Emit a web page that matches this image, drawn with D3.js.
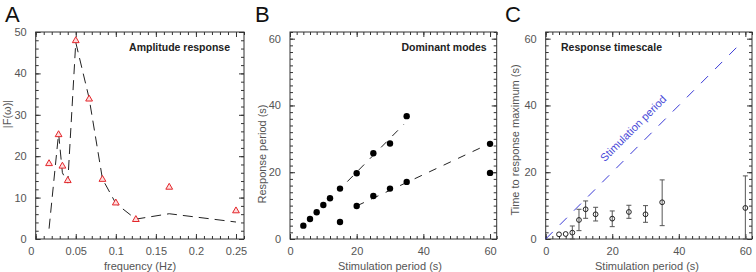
<!DOCTYPE html>
<html>
<head>
<script src="https://d3js.org/d3.v7.min.js"></script>
<style>
  body { margin: 0; background: #fff; }
  svg { font-family: "Liberation Sans", Arial, sans-serif; }
  .tick text { fill: #555; font-size: 11px; }
  .domain, .tick line { stroke: #333; }
</style>
</head>
<body>
<div id="chart"></div>
<script>
// panel A - amplitude response
var freq = [1/60, 1/35, 1/30, 1/25, 1/20, 1/15, 1/12, 1/10, 1/8, 1/6, 1/4];
var ampMeasured = [18.2, 25.2, 17.6, 14.1, 47.9, 33.8, 14.4, 8.7, 4.7, 12.5, 6.8];
var ampModel = [2.5, 25.5, 16, 13.5, 47.5, 34, 14.5, 8.6, 4.8, 6.1, 4.1];
var freqTicks = [0, 0.05, 0.1, 0.15, 0.2, 0.25];
var ampTicks = [0, 10, 20, 30, 40, 50];

// panel B - dominant modes
var stimB = [4, 6, 8, 10, 12, 15, 15, 20, 20, 25, 25, 30, 30, 35, 35, 60, 60];
var respB = [4, 6, 8, 10.2, 12.2, 15.1, 5.1, 19.7, 9.9, 25.7, 12.9, 28.6, 15.1, 36.8, 17.1, 28.5, 19.8];
var fitB1 = [[17.2, 17.2], [34.2, 34.4]];
var fitB2 = [[20, 9.9], [58, 27.7]];

// panel C - response timescale
var stimC = [4, 6, 8, 10, 12, 15, 20, 25, 30, 35, 60];
var tmaxC = [1.4, 1.5, 1.9, 5.7, 8.9, 7.4, 6.1, 8.1, 7.4, 11, 9.3];
var errLo = [1.4, 1.5, 0, 2.5, 6.2, 5.4, 3.7, 6.2, 5, 4, 0];
var errHi = [1.4, 1.5, 3.9, 8.9, 11.4, 9.5, 8.4, 10.1, 10, 17.7, 18.9];
var diagC = [[0, 0], [59, 59]];
var periodTicks = [0, 20, 40, 60];

var svg = d3.select("#chart").append("svg")
  .attr("width", 756).attr("height", 272);

// box with inward major + minor ticks on all four sides, labels only bottom/left
function frame(x, y, xt, yt, xMinor, yMinor, xfmt) {
  var g = svg.append("g");
  var y0 = y.range()[0], y1 = y.range()[1];
  var x0 = x.range()[0], x1 = x.range()[1];
  [[d3.axisBottom, y0, true], [d3.axisTop, y1, false]].forEach(function(a) {
    g.append("g").attr("transform", "translate(0," + a[1] + ")")
      .call(a[0](x).tickValues(xMinor).tickSize(-3).tickSizeOuter(0).tickFormat(""))
      .select(".domain").remove();
    g.append("g").attr("class", a[2] ? "xlab" : null)
      .attr("transform", "translate(0," + a[1] + ")")
      .call(a[0](x).tickValues(xt).tickSize(-5).tickSizeOuter(0).tickPadding(8)
        .tickFormat(a[2] ? xfmt : ""))
      .select(".domain").remove();
  });
  [[d3.axisLeft, x0, true], [d3.axisRight, x1, false]].forEach(function(a) {
    g.append("g").attr("transform", "translate(" + a[1] + ",0)")
      .call(a[0](y).tickValues(yMinor).tickSize(-3).tickSizeOuter(0).tickFormat(""))
      .select(".domain").remove();
    g.append("g").attr("transform", "translate(" + a[1] + ",0)")
      .call(a[0](y).tickValues(yt).tickSize(-5).tickSizeOuter(0).tickPadding(9)
        .tickFormat(a[2] ? d3.format("d") : ""))
      .select(".domain").remove();
  });
  g.append("rect").attr("x", x0).attr("y", y1)
    .attr("width", x1 - x0).attr("height", y0 - y1)
    .attr("fill", "none").attr("stroke", "#333");
  return g;
}

function text(x, y, s, opts) {
  opts = opts || {};
  var t = svg.append("text").attr("x", x).attr("y", y).text(s)
    .attr("font-size", opts.size || 11)
    .attr("fill", opts.fill || "#555")
    .attr("text-anchor", opts.anchor || "middle");
  if (opts.bold) t.attr("font-weight", "bold");
  if (opts.rotate) t.attr("transform", "rotate(" + opts.rotate + "," + x + "," + y + ")");
  return t;
}

// ---------- A ----------
var xA = d3.scaleLinear().domain([0, 0.26]).range([35.7, 244]);
var yA = d3.scaleLinear().domain([0, 50]).range([239, 32]);
var fmtA = function(d) { return d === 0 ? "0" : String(+d.toFixed(2)); };
var gA = frame(xA, yA, freqTicks, ampTicks, d3.range(0, 0.2601, 0.01), d3.range(0, 50.1, 2), fmtA);
// the "0" on the frequency axis sits a little to the left
gA.select(".xlab").selectAll(".tick text").filter(function(d) { return d === 0; })
  .attr("dx", -5);

var lineA = d3.line().x(function(d, i) { return xA(freq[i]); }).y(function(d) { return yA(d); });
svg.append("path").datum(ampModel).attr("d", lineA)
  .attr("fill", "none").attr("stroke", "#222").attr("stroke-width", 1)
  .attr("stroke-dasharray", "10,6");
var tri = d3.symbol().type(d3.symbolTriangle).size(20);
svg.append("g").selectAll("path").data(ampMeasured).enter().append("path")
  .attr("d", tri)
  .attr("transform", function(d, i) { return "translate(" + xA(freq[i]) + "," + yA(d) + ")"; })
  .attr("fill", "#fdd").attr("stroke", "#e3262b").attr("stroke-width", 1);

text(230, 51, "Amplitude response", {anchor: "end", bold: true, fill: "#222", size: 10.5});
text(5, 22, "A", {anchor: "start", size: 22, fill: "#111"});
text(140, 270, "frequency (Hz)");
text(11, 114, "|F(\u03c9)|", {rotate: -90});

// ---------- B ----------
var xB = d3.scaleLinear().domain([0, 62]).range([290, 496.7]);
var yB = d3.scaleLinear().domain([0, 62]).range([239, 32]);
frame(xB, yB, periodTicks, periodTicks, d3.range(0, 62.1, 2), d3.range(0, 62.1, 2), d3.format("d"));
var lineXY = function(x, y) {
  return d3.line().x(function(d) { return x(d[0]); }).y(function(d) { return y(d[1]); });
};
[fitB1, fitB2].forEach(function(f) {
  svg.append("path").datum(f).attr("d", lineXY(xB, yB))
    .attr("fill", "none").attr("stroke", "#222").attr("stroke-width", 1)
    .attr("stroke-dasharray", "8,8");
});
svg.append("g").selectAll("circle").data(respB).enter().append("circle")
  .attr("cx", function(d, i) { return xB(stimB[i]); })
  .attr("cy", function(d) { return yB(d); })
  .attr("r", 3.2).attr("fill", "#000");

text(486.7, 51, "Dominant modes", {anchor: "end", bold: true, fill: "#222", size: 10.5});
text(255, 22, "B", {anchor: "start", size: 22, fill: "#111"});
text(390, 270, "Stimulation period (s)");
text(266, 154, "Response period (s)", {rotate: -90});

// ---------- C ----------
var xC = d3.scaleLinear().domain([0, 62]).range([545.7, 752]);
var yC = d3.scaleLinear().domain([0, 62]).range([239, 32]);
frame(xC, yC, periodTicks, periodTicks, d3.range(0, 62.1, 2), d3.range(0, 62.1, 2), d3.format("d"));
svg.append("path").datum(diagC).attr("d", lineXY(xC, yC))
  .attr("fill", "none").attr("stroke", "#3a3ad6").attr("stroke-width", 1)
  .attr("stroke-dasharray", "10,10");
var eb = svg.append("g").attr("stroke", "#555").attr("stroke-width", 1);
stimC.forEach(function(s, i) {
  if (errHi[i] - errLo[i] < 0.5) return;
  var cx = xC(s);
  eb.append("line").attr("x1", cx).attr("x2", cx).attr("y1", yC(errLo[i])).attr("y2", yC(errHi[i]));
  eb.append("line").attr("x1", cx - 2.5).attr("x2", cx + 2.5).attr("y1", yC(errLo[i])).attr("y2", yC(errLo[i]));
  eb.append("line").attr("x1", cx - 2.5).attr("x2", cx + 2.5).attr("y1", yC(errHi[i])).attr("y2", yC(errHi[i]));
});
svg.append("g").selectAll("circle").data(tmaxC).enter().append("circle")
  .attr("cx", function(d, i) { return xC(stimC[i]); })
  .attr("cy", function(d) { return yC(d); })
  .attr("r", 2.4).attr("fill", "none").attr("stroke", "#222").attr("stroke-width", 1);

text(561, 51, "Response timescale", {anchor: "start", bold: true, fill: "#222", size: 10.5});
text(505, 22, "C", {anchor: "start", size: 22, fill: "#111"});
text(647, 270, "Stimulation period (s)");
text(519, 140, "Time to response maximum (s)", {rotate: -90});
text(636, 131, "Stimulation period", {rotate: -45, fill: "#4a4ad8", size: 11});
</script>
</body>
</html>
